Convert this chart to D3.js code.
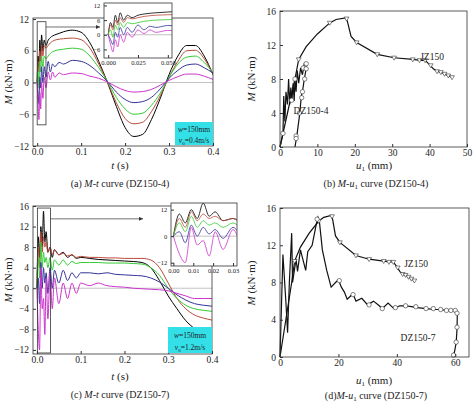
<!DOCTYPE html><html><head><meta charset="utf-8">
<script src="https://d3js.org/d3.v7.min.js"></script>
<style>body{margin:0;background:#fff}svg{font-family:"Liberation Serif",serif}</style></head><body>
<script>
const colors=["#000000","#b84a3a","#33cc33","#333399","#cc33cc"];
const tA=[0,0.002,0.004,0.006,0.008,0.01,0.013,0.016,0.02,0.025,0.03,0.035,0.04,0.05,0.06,0.08,0.10,0.12,0.14,0.16,0.18,0.20,0.22,0.24,0.26,0.28,0.30,0.32,0.34,0.36,0.38,0.40];
const mA=[
[0,5,3,8,5,9,6,8,7,8,8.5,8.8,9,9.3,9.6,9.9,9.5,7.5,4,0,-4.5,-8.5,-10.2,-9.8,-7,-3,1.5,5,7,7,5,1.5],
[0,4,2,6,4,7,5,7,6.5,7,7.5,7.8,8,8.2,8.3,8.4,8.1,6.5,3.5,0,-3.8,-6.8,-7.8,-7.5,-5.5,-2.5,1,4,6,6.1,4.5,1.5],
[0,2,-1,4,2,5,3,5,4.5,5,5.5,5.8,6,6.2,6.3,6.5,6.3,5,2.8,0.2,-2.8,-5,-6,-5.8,-4.3,-2,1,3.5,4.8,5,3.8,1.8],
[0,-2,-4,1,-1,3,0,3,1,4,2,3.5,3,3.8,3.5,4.2,4,3.2,1.8,0.2,-1.8,-3.2,-3.8,-3.6,-2.8,-1.2,0.8,2.3,3.3,3.5,2.8,1.8],
[0,-4,-7,-2,-5,0,-3,1,-1,2,0.5,2,1,1.8,1.5,1.8,1.7,1.2,0.8,0.1,-0.8,-1.5,-1.8,-1.7,-1.3,-0.5,0.4,1.1,1.6,1.6,1.2,0.6]];
const tC=[0,0.003,0.006,0.009,0.012,0.015,0.018,0.021,0.025,0.03,0.035,0.04,0.05,0.06,0.07,0.08,0.09,0.10,0.12,0.14,0.16,0.18,0.20,0.22,0.24,0.26,0.28,0.30,0.32,0.34,0.36,0.38,0.40];
const mC=[
[0,10,6,12,8,15,9,11,7,8,6,7.5,6.5,7,6,6.5,5.8,6,5.8,5.6,5.5,5.4,5.3,5.2,5,4,1.5,-1.5,-4,-6.3,-7.8,-8.5,-9],
[0,8,4,11,7,10,8,9,7,8,6.5,7.5,6.5,6.8,6.3,6.5,6,6.2,6,6,5.9,5.9,5.8,5.8,5.8,5.5,4,1,-2,-4,-5.2,-5.8,-6.2],
[0,6,2,9,4,7,5,6,4,6,3.5,5.5,4.5,5.5,4.5,5.2,4.8,5,5,5,4.9,4.9,4.9,4.8,4.7,4,2.5,0,-2,-3.3,-4,-4.3,-4.5],
[0,2,-3,5,0,4,1,3,-1,4,0,3.5,1,3.5,1.5,3,2,3,3,2.8,3,2.7,2.6,2.5,2.4,2,1.2,0,-1.3,-2.3,-3,-3.3,-3.5],
[0,-8,-12,4,-4,-2,-9,2,-6,3,-4,2,-3,1,-2,1,-1,1,0.5,1,0.5,0.3,0.2,0,-0.1,-0.2,-0.3,-0.5,-1,-1.5,-2,-2,-2]];
const jzU=[0,2,4,5,7,10,13.3,15,17.5,18,19,20.5,26,30.5,35.5,37.5,38.8,40.2,41,42,43,44,45,46];
const jzM=[0,4,8,10.3,11.8,13.3,14.6,15,15.2,14.8,13,12.3,10.9,10.5,10.3,10.2,10.2,9.6,9.2,8.9,8.8,8.6,8.4,8.2];
const jzMkU=[5,13.3,17.8,20.5,26,30.5,35.5,37.3,38.8,40.3,42,43,44,45,46];
const jzMkM=[10.3,14.6,15.1,12.3,10.9,10.5,10.3,10.2,10.2,9.6,8.9,8.8,8.6,8.4,8.2];
const d4U=[0,0.8,1,1.3,1.6,2,2.3,2.6,2.9,3.2,3.5,3.8,4,4.3,4.6,5,5.5,6,6.5,7,7,6.5,6,5.7,5.3,4.5,4];
const d4M=[0,1.6,6,3,6.5,5,8,5,7,5.5,7.5,5.4,8,6.5,9,7.5,9.3,8.5,9.8,9.8,9.2,8,6.5,6,4,1.3,0];
const d4MkU=[0.8,3.1,4,6.2,7,7,6.6,6,5.8,5.2,4.3,4.3];
const d4MkM=[1.6,5.5,8,9.3,9.8,9.2,8,6.5,5.8,4,1.3,1.0];
const d7U=[0,1,2,2.6,3.2,4,4.3,5.5,6,7,8.8,9.5,11,12.7,13,13.5,14.5,16,17.5,19,20,21,22,23,24,25,26,28,30,32,34,35,37,39,41,43,45,47,50,53,55,57,59,60.5,60.7,60.6,60.3,59.7,59.2];
const d7M=[0,11,6,2.6,8,13.3,8,10.5,9.2,11.5,9.3,11.3,12,14.7,15,14.5,11.5,9.3,7.5,8,8.3,7.5,7,6.2,6.5,6.8,6,6.3,5.6,6,5.5,5.2,5.8,5.2,5.5,5.5,5.4,5.3,5.2,5.1,5.1,5,5,4.9,4.6,3,1.5,0.5,0.2];
const d7MkU=[12.7,20.3,25,30.5,35,39.5,43,46.5,50,52.5,55,57,58.5,60,60.6,60.6,60.3,59.4];
const d7MkM=[14.8,8.2,6.7,5.6,5.2,5.3,5.5,5.4,5.2,5.2,5.1,5,5,5,4.7,3.2,1.6,0.2];

const svg=d3.select("body").append("svg").attr("width",474).attr("height",402);
const F="Liberation Serif";
function frame(g,x,y){const [x0,x1]=x.range(),[y1,y0]=y.range();
 g.append("rect").attr("x",x0).attr("y",y0).attr("width",x1-x0).attr("height",y1-y0).attr("fill","none").attr("stroke","#333").attr("stroke-width",0.8);}
function axes(g,x,y,xt,yt,fs,xfmt,yfmt){
 const [y1]=y.range(),[x0]=x.range();
 const ax=g.append("g").attr("transform",`translate(0,${y1})`).call(d3.axisBottom(x).tickValues(xt).tickSize(-3).tickPadding(2).tickFormat(xfmt));
 const ay=g.append("g").attr("transform",`translate(${x0},0)`).call(d3.axisLeft(y).tickValues(yt).tickSize(-3).tickFormat(yfmt));
 [ax,ay].forEach(a=>{a.select(".domain").remove();a.selectAll("line").attr("stroke","#333");a.selectAll("text").attr("font-family",F).attr("font-size",fs).attr("fill","#222");});
 ax.selectAll("text").attr("dy","0.75em");ay.selectAll("text").attr("dx","-0.1em");
 frame(g,x,y);}
function lines(g,x,y,ts,ms,clip,w){ms.forEach((m,i)=>{g.append("path").datum(ts.map((t,j)=>[t,m[j]])).attr("clip-path",clip).attr("fill","none").attr("stroke",colors[i]).attr("stroke-width",w)
 .attr("d",d3.line().x(d=>x(d[0])).y(d=>y(d[1])).curve(d3.curveMonotoneX));});}
function zeroLine(g,x,y){g.append("line").attr("x1",x.range()[0]).attr("x2",x.range()[1]).attr("y1",y(0)).attr("y2",y(0)).attr("stroke","#999").attr("stroke-width",0.6);}
function txt(x,y,s,fs,opt={}){const t=svg.append("text").attr("x",x).attr("y",y).attr("font-family",F).attr("font-size",fs).attr("text-anchor",opt.a||"middle").attr("fill","#222");
 if(opt.r)t.attr("transform",`rotate(-90,${x},${y})`);t.html(s);return t;}
const defs=svg.append("defs");
function clip(id,x,y){defs.append("clipPath").attr("id",id).append("rect").attr("x",x.range()[0]).attr("y",y.range()[1]).attr("width",x.range()[1]-x.range()[0]).attr("height",y.range()[0]-y.range()[1]);return `url(#${id})`;}
defs.append("marker").attr("id","arr").attr("viewBox","0 0 10 10").attr("refX",10).attr("refY",5).attr("markerWidth",6).attr("markerHeight",6).attr("orient","auto").append("path").attr("d","M0,0L10,5L0,10z").attr("fill","#333");

// Panel a
{const x=d3.scaleLinear().domain([-0.0095,0.4]).range([33,213]),y=d3.scaleLinear().domain([-12,12.2]).range([146,18]);
 const g=svg.append("g");zeroLine(g,x,y);lines(g,x,y,tA,mA,clip("ca",x,y),1);
 axes(g,x,y,[0,0.1,0.2,0.3,0.4],[-12,-6,0,6,12],9.5,d3.format(".1f"),d3.format("d"));
 g.append("rect").attr("x",x(0)).attr("y",y(11.5)).attr("width",x(0.02)-x(0)).attr("height",y(-8)-y(11.5)).attr("fill","none").attr("stroke","#333").attr("stroke-width",0.8);
 g.append("line").attr("x1",x(0.02)).attr("y1",y(10.5)).attr("x2",100).attr("y2",y(10.5)).attr("stroke","#333").attr("stroke-width",0.7).attr("marker-end","url(#arr)");
 g.append("rect").attr("x",175).attr("y",122).attr("width",38).attr("height",23).attr("fill","#33e0e8");
 txt(194,131.5,"<tspan font-style='italic'>w</tspan>=150mm",7.5);txt(194,142.5,"<tspan font-style='italic'>v</tspan><tspan font-size='5' dy='2'>0</tspan><tspan dy='-2'>=0.4m/s</tspan>",7.5);
 txt(120,169,"<tspan font-style='italic'>t</tspan> (s)",11);txt(12,82,"<tspan font-style='italic'>M</tspan> (kN·m)",11,{r:1});
 txt(120,187,"(a) <tspan font-style='italic'>M</tspan>-<tspan font-style='italic'>t</tspan> curve (DZ150-4)",10);
 const xi=d3.scaleLinear().domain([-0.0035,0.0535]).range([104,172]),yi=d3.scaleLinear().domain([-9.5,13]).range([58,3]);
 const gi=svg.append("g");gi.append("rect").attr("x",104).attr("y",3).attr("width",68).attr("height",55).attr("fill","#fff");
 zeroLine(gi,xi,yi);lines(gi,xi,yi,tA.filter(t=>t<=0.06),mA.map(m=>m.slice(0,15)),clip("cai",xi,yi),0.8);
 axes(gi,xi,yi,[0,0.025,0.05],[-6,0,6,12],6.5,d3.format(".3f"),d3.format("d"));}
// Panel c
{const x=d3.scaleLinear().domain([-0.009,0.4]).range([33,212]),y=d3.scaleLinear().domain([-12.8,16]).range([354,206]);
 const g=svg.append("g");zeroLine(g,x,y);lines(g,x,y,tC,mC,clip("cc",x,y),1);
 axes(g,x,y,[0,0.1,0.2,0.3,0.4],[-12,-8,-4,0,4,8,12,16],9.5,d3.format(".1f"),d3.format("d"));
 g.append("rect").attr("x",x(0.001)).attr("y",y(15.6)).attr("width",x(0.031)-x(0.001)).attr("height",y(-12.6)-y(15.6)).attr("fill","none").attr("stroke","#333").attr("stroke-width",0.8);
 g.append("line").attr("x1",x(0.031)).attr("y1",y(13.5)).attr("x2",143).attr("y2",y(13.5)).attr("stroke","#333").attr("stroke-width",0.7).attr("marker-end","url(#arr)");
 g.append("rect").attr("x",168).attr("y",327).attr("width",44).attr("height",26).attr("fill","#33e0e8");
 txt(190,337.5,"<tspan font-style='italic'>w</tspan>=150mm",7.5);txt(190,349.5,"<tspan font-style='italic'>v</tspan><tspan font-size='5' dy='2'>0</tspan><tspan dy='-2'>=1.2m/s</tspan>",7.5);
 txt(120,380,"<tspan font-style='italic'>t</tspan> (s)",11);txt(12,280,"<tspan font-style='italic'>M</tspan> (kN·m)",11,{r:1});
 txt(120,398,"(c) <tspan font-style='italic'>M</tspan>-<tspan font-style='italic'>t</tspan> curve (DZ150-7)",10);
 const xi=d3.scaleLinear().domain([-0.0012,0.032]).range([171,237]),yi=d3.scaleLinear().domain([-13.5,15]).range([266,203]);
 const gi=svg.append("g");gi.append("rect").attr("x",171).attr("y",203).attr("width",66).attr("height",63).attr("fill","#fff");
 zeroLine(gi,xi,yi);lines(gi,xi,yi,tC.filter(t=>t<=0.04),mC.map(m=>m.slice(0,12)),clip("cci",xi,yi),0.8);
 axes(gi,xi,yi,[0,0.01,0.02,0.03],[-12,0,12],6.5,d3.format(".2f"),d3.format("d"));}
function mkTri(g,x,y,us,ms){g.selectAll(null).data(us).enter().append("path").attr("transform",(d,i)=>`translate(${x(d)},${y(ms[i])})`).attr("d","M-2.4,-1.6L2.4,-1.6L0,2.4Z").attr("fill","#fff").attr("stroke","#333").attr("stroke-width",0.6);}
function mkCirc(g,x,y,us,ms){g.selectAll(null).data(us).enter().append("circle").attr("cx",d=>x(d)).attr("cy",(d,i)=>y(ms[i])).attr("r",2.2).attr("fill","#fff").attr("stroke","#333").attr("stroke-width",0.6);}
function ln(g,x,y,us,ms,w){g.append("path").datum(us.map((u,i)=>[u,ms[i]])).attr("fill","none").attr("stroke","#111").attr("stroke-width",w).attr("d",d3.line().x(d=>x(d[0])).y(d=>y(d[1])));}
// Panel b
{const x=d3.scaleLinear().domain([0,50]).range([280,467]),y=d3.scaleLinear().domain([0,16]).range([147,11]);
 const g=svg.append("g");ln(g,x,y,jzU,jzM,1.2);ln(g,x,y,d4U,d4M,1.2);mkTri(g,x,y,jzMkU,jzMkM);mkCirc(g,x,y,d4MkU,d4MkM);
 axes(g,x,y,[0,10,20,30,40,50],[0,4,8,12,16],9.5,d3.format("d"),d3.format("d"));
 txt(432,60,"JZ150",9.5);txt(311,114,"DZ150-4",9.5);
 txt(374,169,"<tspan font-style='italic'>u</tspan><tspan font-size='7' dy='2'>1</tspan><tspan dy='-2'> (mm)</tspan>",11);txt(255,79,"<tspan font-style='italic'>M</tspan> (kN·m)",11,{r:1});
 txt(376,187,"(b) <tspan font-style='italic'>M</tspan>-<tspan font-style='italic'>u</tspan><tspan font-size='7' dy='2'>1</tspan><tspan dy='-2'> curve (DZ150-4)</tspan>",10);}
// Panel d
{const x=d3.scaleLinear().domain([0,64.7]).range([280,469]),y=d3.scaleLinear().domain([0,16]).range([357,208]);
 const g=svg.append("g");ln(g,x,y,jzU,jzM,1.2);ln(g,x,y,d7U,d7M,1.2);mkTri(g,x,y,jzMkU,jzMkM);mkCirc(g,x,y,d7MkU,d7MkM);
 axes(g,x,y,[0,20,40,60],[0,4,8,12,16],9.5,d3.format("d"),d3.format("d"));
 txt(416,267,"JZ150",9.5);txt(418,341,"DZ150-7",9.5);
 txt(374,384,"<tspan font-style='italic'>u</tspan><tspan font-size='7' dy='2'>1</tspan><tspan dy='-2'> (mm)</tspan>",11);txt(255,283,"<tspan font-style='italic'>M</tspan> (kN·m)",11,{r:1});
 txt(376,399,"(d)<tspan font-style='italic'>M</tspan>-<tspan font-style='italic'>u</tspan><tspan font-size='7' dy='2'>1</tspan><tspan dy='-2'> curve (DZ150-7)</tspan>",10);}
</script></body></html>
